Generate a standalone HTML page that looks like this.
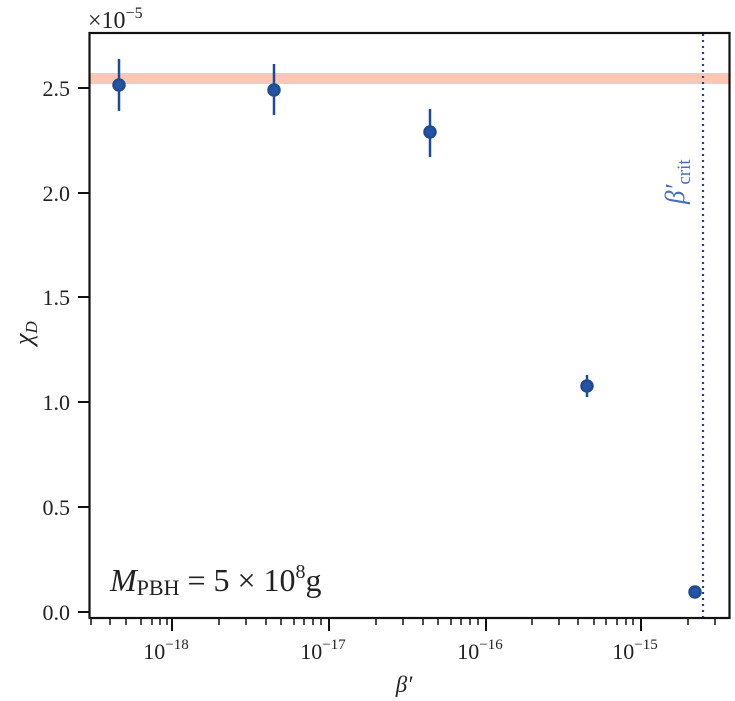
<!DOCTYPE html>
<html><head><meta charset="utf-8"><style>
body{margin:0;background:#fff}
svg{display:block}
text{font-family:"Liberation Serif","DejaVu Serif",serif;fill:#222}
</style></head><body>
<svg width="735" height="701" viewBox="0 0 735 701" xmlns="http://www.w3.org/2000/svg">
<rect x="90" y="73" width="640" height="11" fill="#f9c7b6"/>
<line x1="703" y1="34" x2="703" y2="618" stroke="#2a3f7a" stroke-width="2.2" stroke-dasharray="2,4"/>
<text transform="translate(684,204) rotate(-90)" font-size="27" font-style="italic" style="fill:#4a6fc0">β′<tspan font-style="normal" font-size="19" dy="6">crit</tspan></text>
<rect x="89.5" y="33" width="640" height="585" fill="none" stroke="#111" stroke-width="2.2"/>
<g stroke="#111" stroke-width="2">
<line x1="78" y1="88" x2="89" y2="88"/><line x1="78" y1="193" x2="89" y2="193"/>
<line x1="78" y1="297" x2="89" y2="297"/><line x1="78" y1="402" x2="89" y2="402"/>
<line x1="78" y1="507" x2="89" y2="507"/><line x1="78" y1="612" x2="89" y2="612"/>
</g>
<g font-size="22" text-anchor="end">
<text x="70" y="96">2.5</text><text x="70" y="201">2.0</text><text x="70" y="305">1.5</text>
<text x="70" y="410">1.0</text><text x="70" y="515">0.5</text><text x="70" y="620">0.0</text>
</g>
<text x="88" y="28" font-size="24">×10<tspan font-size="16" dy="-10">−5</tspan></text>
<text transform="translate(32,345) rotate(-90)" font-size="26" font-style="italic">χ<tspan font-size="17" dy="5">D</tspan></text>
<g stroke="#111" stroke-width="2">
<line x1="172" y1="618" x2="172" y2="631"/><line x1="329" y1="618" x2="329" y2="631"/>
<line x1="486" y1="618" x2="486" y2="631"/><line x1="641" y1="618" x2="641" y2="631"/>
</g>
<g stroke="#111" stroke-width="1.5">
<line x1="91" y1="618" x2="91" y2="625"/><line x1="110" y1="618" x2="110" y2="625"/><line x1="126" y1="618" x2="126" y2="625"/><line x1="141" y1="618" x2="141" y2="625"/><line x1="152" y1="618" x2="152" y2="625"/><line x1="160" y1="618" x2="160" y2="625"/><line x1="167" y1="618" x2="167" y2="625"/>
<line x1="219" y1="618" x2="219" y2="625"/><line x1="246" y1="618" x2="246" y2="625"/><line x1="266" y1="618" x2="266" y2="625"/><line x1="281" y1="618" x2="281" y2="625"/><line x1="294" y1="618" x2="294" y2="625"/><line x1="304" y1="618" x2="304" y2="625"/><line x1="313" y1="618" x2="313" y2="625"/><line x1="321" y1="618" x2="321" y2="625"/>
<line x1="376" y1="618" x2="376" y2="625"/><line x1="403" y1="618" x2="403" y2="625"/><line x1="423" y1="618" x2="423" y2="625"/><line x1="438" y1="618" x2="438" y2="625"/><line x1="451" y1="618" x2="451" y2="625"/><line x1="461" y1="618" x2="461" y2="625"/><line x1="470" y1="618" x2="470" y2="625"/><line x1="478" y1="618" x2="478" y2="625"/>
<line x1="532" y1="618" x2="532" y2="625"/><line x1="559" y1="618" x2="559" y2="625"/><line x1="578" y1="618" x2="578" y2="625"/><line x1="594" y1="618" x2="594" y2="625"/><line x1="606" y1="618" x2="606" y2="625"/><line x1="617" y1="618" x2="617" y2="625"/><line x1="626" y1="618" x2="626" y2="625"/><line x1="633" y1="618" x2="633" y2="625"/>
<line x1="688" y1="618" x2="688" y2="625"/><line x1="715" y1="618" x2="715" y2="625"/>
</g>
<g font-size="22" text-anchor="middle">
<text x="166" y="659">10<tspan font-size="15" dy="-10">−18</tspan></text>
<text x="323" y="659">10<tspan font-size="15" dy="-10">−17</tspan></text>
<text x="480" y="659">10<tspan font-size="15" dy="-10">−16</tspan></text>
<text x="635" y="659">10<tspan font-size="15" dy="-10">−15</tspan></text>
</g>
<text x="404" y="692" font-size="23" font-style="italic" text-anchor="middle">β′</text>
<text x="110" y="591" font-size="32"><tspan font-style="italic">M</tspan><tspan font-size="22" dy="4">PBH</tspan><tspan dy="-4"> = 5 × 10</tspan><tspan font-size="20" dy="-13">8</tspan><tspan dy="13">g</tspan></text>
<g stroke="#1f4a96" stroke-width="2.5" fill="#2454a4">
<line x1="119" y1="59" x2="119" y2="111"/><circle cx="119" cy="85" r="5.5"/>
<line x1="274" y1="64" x2="274" y2="115"/><circle cx="274" cy="90" r="5.5"/>
<line x1="430" y1="109" x2="430" y2="157"/><circle cx="430" cy="132" r="5.5"/>
<line x1="587" y1="375" x2="587" y2="397"/><circle cx="587" cy="386" r="5.5"/>
<circle cx="695" cy="592" r="5.5"/>
</g>
</svg>
</body></html>
